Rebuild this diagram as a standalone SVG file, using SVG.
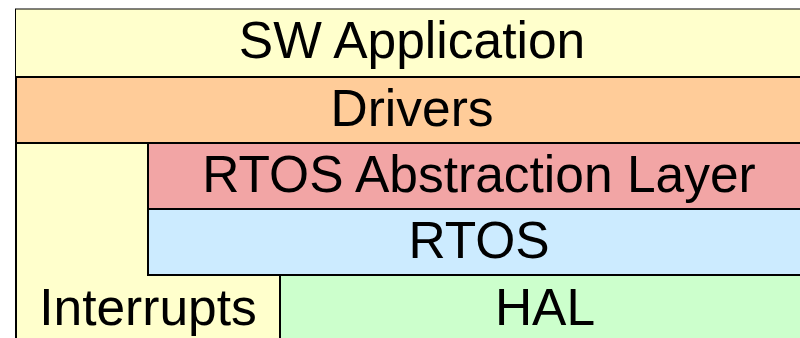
<svg xmlns="http://www.w3.org/2000/svg" width="800" height="338" viewBox="0 0 800 338">
  <style>
    .box { stroke: #000; stroke-width: 2; }
    .lbl { font-family: "Liberation Sans", Arial, sans-serif; font-size: 51.5px; fill: #000; text-anchor: middle; }
    .app { fill: #FFFFCC; }
    .drv { fill: #FFCC99; }
    .irq { fill: #FFFFCC; }
    .ral { fill: #F2A5A5; }
    .rtos { fill: #CCEBFF; }
    .hal { fill: #CCFFCC; }
  </style>
  <rect width="800" height="338" fill="#FFFFFF"/>

  <!-- software stack, drawn top layer first -->
  <g id="sw-application">
    <rect class="app" x="15.5" y="9" width="800" height="80" stroke="#000" stroke-width="1"/>
    <text class="lbl" x="412" y="58">SW Application</text>
  </g>

  <g id="drivers">
    <rect class="box drv" x="16" y="77" width="794" height="66"/>
    <text class="lbl" x="412" y="126">Drivers</text>
  </g>

  <g id="interrupts">
    <rect class="box irq" x="16" y="143" width="264" height="210"/>
    <text class="lbl" x="148" y="325">Interrupts</text>
  </g>

  <g id="rtos-abstraction-layer">
    <rect class="box ral" x="148" y="143" width="662" height="66"/>
    <text class="lbl" x="479" y="192">RTOS Abstraction Layer</text>
  </g>

  <g id="rtos">
    <rect class="box rtos" x="148" y="209" width="662" height="66"/>
    <text class="lbl" x="479" y="258">RTOS</text>
  </g>

  <g id="hal">
    <rect class="box hal" x="280" y="275" width="530" height="100"/>
    <text class="lbl" x="545" y="325">HAL</text>
  </g>

  <g id="connectors"/>
</svg>
